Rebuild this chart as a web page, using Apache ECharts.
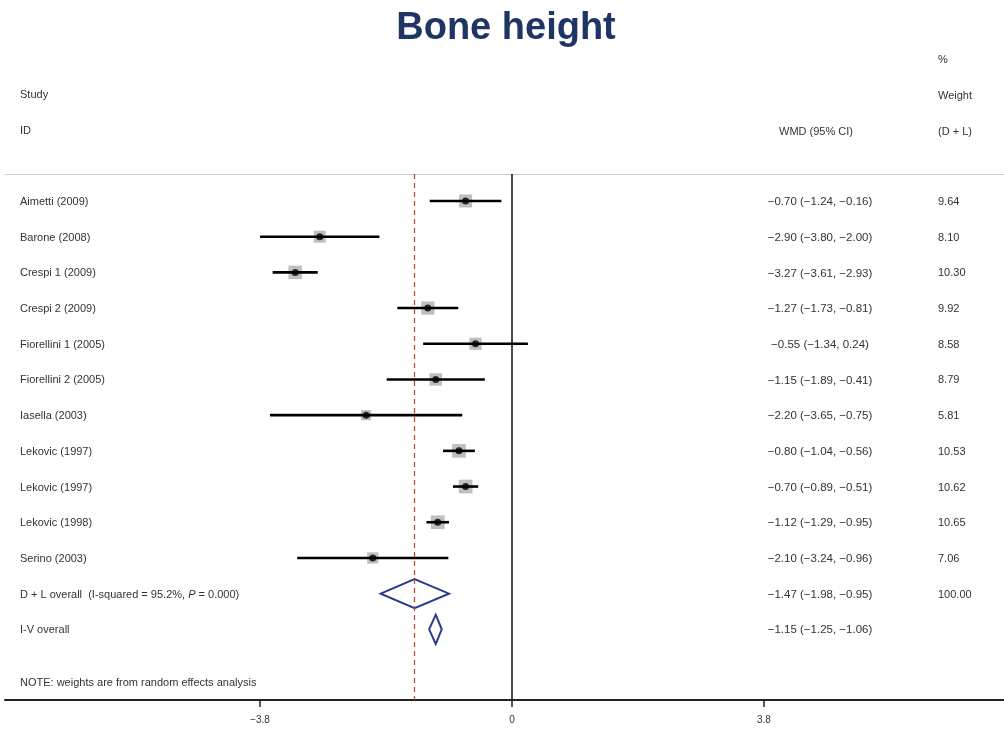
<!DOCTYPE html>
<html>
<head>
<meta charset="utf-8">
<script src="https://cdn.jsdelivr.net/npm/echarts@6/dist/echarts.min.js"></script>
<style>html,body{margin:0;padding:0;background:#fff}#c{width:1004px;height:731px}</style>
</head>
<body>
<div id="c"></div>
<script>
const studies = ['Aimetti (2009)', 'Barone (2008)', 'Crespi 1 (2009)', 'Crespi 2 (2009)', 'Fiorellini 1 (2005)', 'Fiorellini 2 (2005)', 'Iasella (2003)', 'Lekovic (1997)', 'Lekovic (1997)', 'Lekovic (1998)', 'Serino (2003)'];
const est = [-0.70, -2.90, -3.27, -1.27, -0.55, -1.15, -2.20, -0.80, -0.70, -1.12, -2.10];
const lo = [-1.24, -3.80, -3.61, -1.73, -1.34, -1.89, -3.65, -1.04, -0.89, -1.29, -3.24];
const hi = [-0.16, -2.00, -2.93, -0.81, 0.24, -0.41, -0.75, -0.56, -0.51, -0.95, -0.96];
const weights = [9.64, 8.10, 10.30, 9.92, 8.58, 8.79, 5.81, 10.53, 10.62, 10.65, 7.06];
const overallLabels = ['D + L overall', 'I-V overall'];
const overallEst = [-1.47, -1.15];
const overallLo = [-1.98, -1.25];
const overallHi = [-0.95, -1.06];
const overallWeight = ['100.00', ''];
const iSquared = '95.2%';
const pValue = '0.000';
const tickValues = [-3.8, 0, 3.8];
const tickLabels = ['\u22123.8', '0', '3.8'];

const fmt = v => (v < 0 ? '\u2212' : '') + Math.abs(v).toFixed(2);
const ciText = (e, l, h) => fmt(e) + ' (' + fmt(l) + ', ' + fmt(h) + ')';

const nS = studies.length;
const textRows = [];
studies.forEach((s, i) => textRows.push({ label: s, wmd: ciText(est[i], lo[i], hi[i]), w: weights[i].toFixed(2), row: i }));
overallLabels.forEach((s, j) => textRows.push({
  label: j === 0 ? s + '  (I-squared = ' + iSquared + ', {i|P} = ' + pValue + ')' : s,
  wmd: ciText(overallEst[j], overallLo[j], overallHi[j]), w: overallWeight[j], row: nS + j
}));

const FONT = '"Liberation Sans", Arial, sans-serif';
const TXT = '#333';
const chart = echarts.init(document.getElementById('c'));

chart.setOption({
  animation: false,
  backgroundColor: '#fff',
  grid: { left: 5, right: 0, top: 174, bottom: 31 },
  xAxis: [{
    type: 'value', min: -7.647, max: 7.421, position: 'bottom',
    splitLine: { show: false },
    axisLine: { show: true, onZero: false, lineStyle: { color: '#222', width: 2 } },
    axisTick: { show: true, customValues: tickValues, length: 7, lineStyle: { color: '#222', width: 1.5 } },
    axisLabel: { customValues: tickValues, formatter: v => tickLabels[tickValues.indexOf(v)] ?? '', color: TXT, fontFamily: FONT, fontSize: 10, margin: 15 }
  }, {
    type: 'value', min: -7.647, max: 7.421, position: 'top',
    splitLine: { show: false },
    axisLine: { show: true, onZero: false, lineStyle: { color: '#cfcfcf', width: 1 } },
    axisTick: { show: false }, axisLabel: { show: false }
  }],
  yAxis: { type: 'value', min: -0.756, max: 13.98, inverse: true, show: false },
  graphic: [
    { type: 'text', x: 506, y: 29, style: { text: 'Bone height', font: 'bold 38px ' + FONT, fill: '#1f3566', align: 'center', verticalAlign: 'middle' } },
    { type: 'text', x: 20, y: 95, style: { text: 'Study', font: '11px ' + FONT, fill: TXT, verticalAlign: 'middle' } },
    { type: 'text', x: 20, y: 131, style: { text: 'ID', font: '11px ' + FONT, fill: TXT, verticalAlign: 'middle' } },
    { type: 'text', x: 816, y: 132, style: { text: 'WMD (95% CI)', font: '11px ' + FONT, fill: TXT, align: 'center', verticalAlign: 'middle' } },
    { type: 'text', x: 938, y: 60, style: { text: '%', font: '11px ' + FONT, fill: TXT, verticalAlign: 'middle' } },
    { type: 'text', x: 938, y: 96, style: { text: 'Weight', font: '11px ' + FONT, fill: TXT, verticalAlign: 'middle' } },
    { type: 'text', x: 938, y: 132, style: { text: '(D + L)', font: '11px ' + FONT, fill: TXT, verticalAlign: 'middle' } },
    { type: 'text', x: 20, y: 683, style: { text: 'NOTE: weights are from random effects analysis', font: '11px ' + FONT, fill: TXT, verticalAlign: 'middle' } }
  ],
  series: [
    {
      type: 'scatter', name: 'weightBox', z: 2,
      data: est.map((e, i) => [e, i, weights[i]]),
      symbol: 'rect', symbolSize: d => 4.2 * Math.sqrt(d[2]),
      itemStyle: { color: '#b8b8b8', opacity: 0.9 },
      markLine: {
        silent: true, symbol: 'none', label: { show: false },
        data: [
          { xAxis: 0, lineStyle: { color: '#111', width: 1.5, type: 'solid' } },
          { xAxis: overallEst[0], lineStyle: { color: '#c0463c', width: 1.3, type: [5, 4] } }
        ]
      }
    },
    {
      type: 'custom', name: 'ci', z: 3,
      data: lo.map((l, i) => [l, hi[i], i]),
      encode: { x: [0, 1], y: 2 },
      renderItem: (params, api) => {
        const a = api.coord([api.value(0), api.value(2)]);
        const b = api.coord([api.value(1), api.value(2)]);
        return { type: 'line', shape: { x1: a[0], y1: a[1], x2: b[0], y2: b[1] }, style: { stroke: '#000', lineWidth: 2.6 } };
      }
    },
    {
      type: 'scatter', name: 'point', z: 4,
      data: est.map((e, i) => [e, i]),
      symbol: 'circle', symbolSize: 7,
      itemStyle: { color: '#000' }
    },
    {
      type: 'custom', name: 'overall', z: 4,
      data: overallEst.map((e, j) => [overallLo[j], e, overallHi[j], nS + j]),
      encode: { x: [0, 1, 2], y: 3 },
      renderItem: (params, api) => {
        const r = api.value(3), h = 0.41;
        const pts = [
          api.coord([api.value(0), r]), api.coord([api.value(1), r - h]),
          api.coord([api.value(2), r]), api.coord([api.value(1), r + h])
        ];
        return { type: 'polygon', shape: { points: pts }, style: { fill: 'none', stroke: '#2c3a8c', lineWidth: 2 } };
      }
    },
    {
      type: 'custom', name: 'text', z: 5,
      data: textRows.map(t => [0, t.row]),
      encode: { x: 0, y: 1 },
      renderItem: (params, api) => {
        const t = textRows[params.dataIndex];
        const y = api.coord([0, api.value(1)])[1];
        return {
          type: 'group', children: [
            { type: 'text', x: 20, y: y + 1, style: { text: t.label, font: '11px ' + FONT, fill: TXT, verticalAlign: 'middle', rich: { i: { fontStyle: 'italic', fontSize: 11, fontFamily: FONT, fill: TXT } } } },
            { type: 'text', x: 820, y: y + 1, style: { text: t.wmd, font: '11.5px ' + FONT, fill: TXT, align: 'center', verticalAlign: 'middle' } },
            { type: 'text', x: 938, y: y + 1, style: { text: t.w, font: '11px ' + FONT, fill: TXT, verticalAlign: 'middle' } }
          ]
        };
      }
    }
  ]
});
</script>
</body>
</html>
